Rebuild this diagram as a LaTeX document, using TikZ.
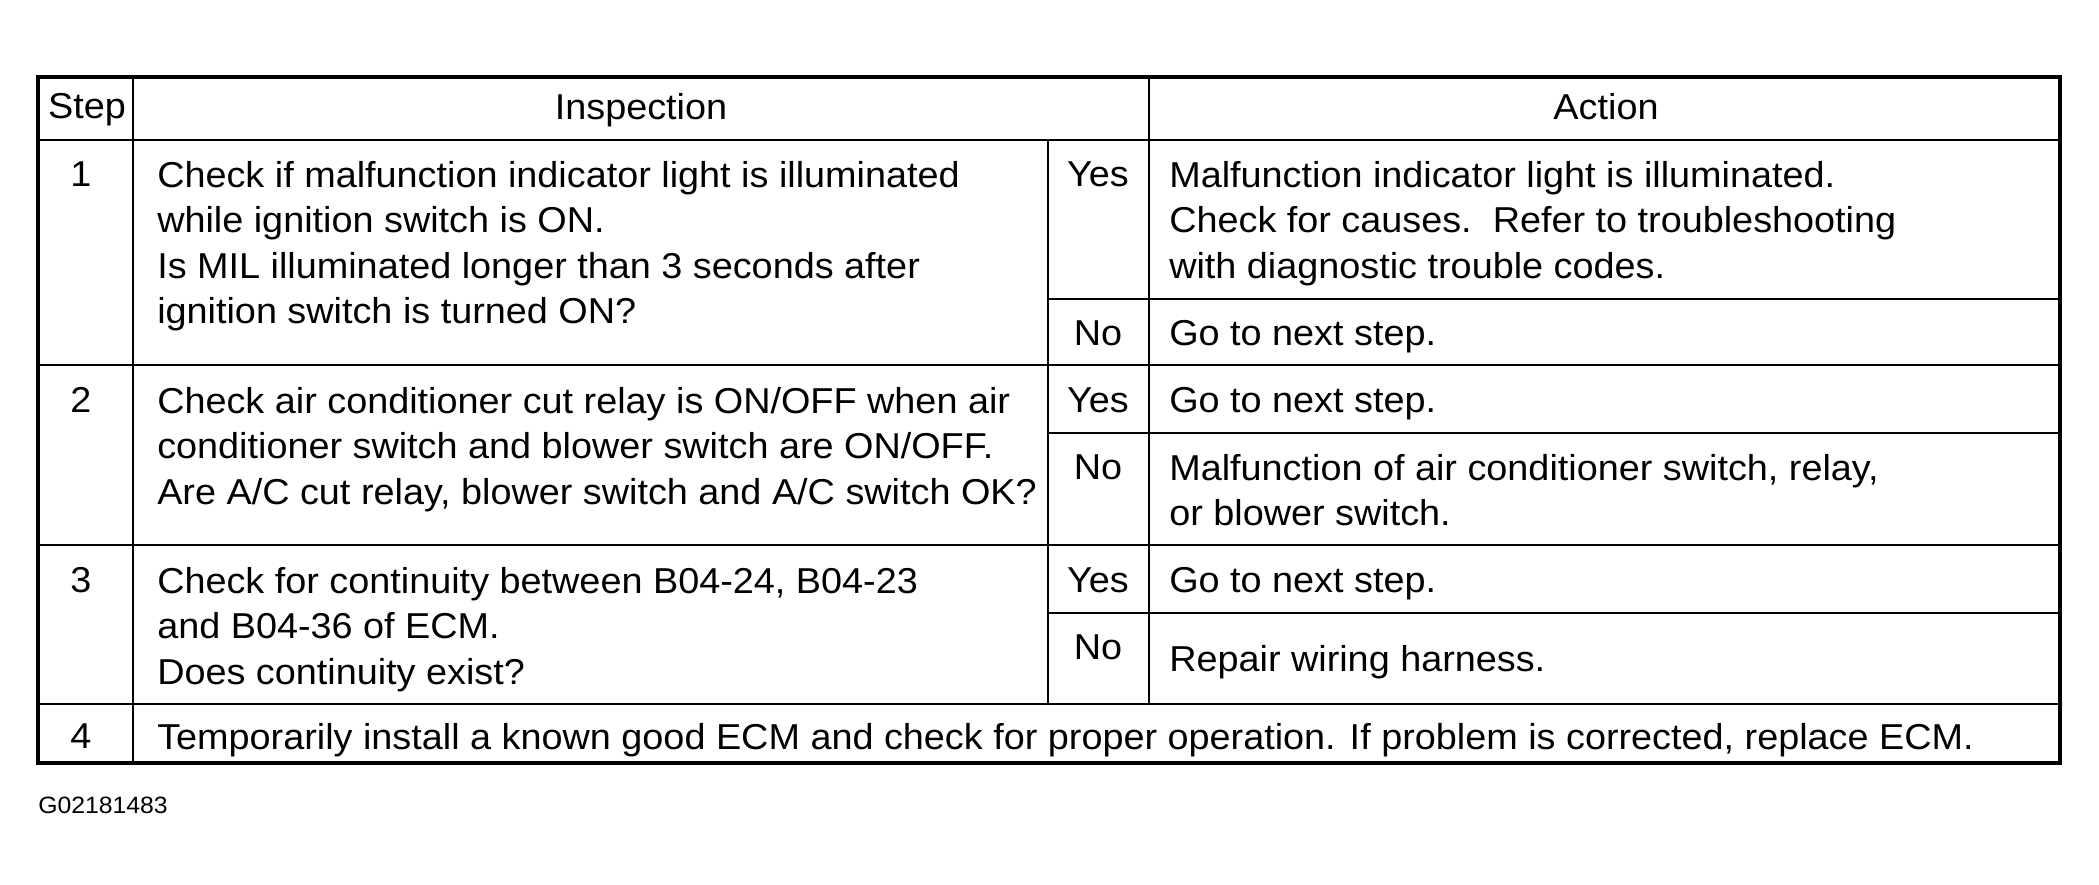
\documentclass[tikz,border=0pt]{standalone}
\usepackage{fontspec}
\setmainfont{Liberation Sans}[FakeStretch=1.05]
\usepackage{xcolor}
\usepackage{tikz}

\begin{document}
\begin{tikzpicture}[x=0.75pt,y=0.75pt,yscale=-1,xscale=1,
  cell/.style={inner sep=0pt,font=\fontsize{27}{34.1}\selectfont},
  tag/.style={inner sep=0pt,font=\fontsize{17.7}{21}\selectfont},
  frame/.style={line width=3pt},
  rule/.style={line width=1.2pt}]
\useasboundingbox (0,0) rectangle (2099,885);

%Shape: Rectangle [id:dp5120437786016]
\draw [frame] (38,77) rectangle (2060,763) ;
%Straight Lines [id:da2094417736521]
\draw [rule] (38,140) -- (2060,140) ;
%Straight Lines [id:da7718302654193]
\draw [rule] (38,365) -- (2060,365) ;
%Straight Lines [id:da4460185239917]
\draw [rule] (38,545) -- (2060,545) ;
%Straight Lines [id:da9031576621840]
\draw [rule] (38,704) -- (2060,704) ;
%Straight Lines [id:da3365019482715]
\draw [rule] (1048,299) -- (2060,299) ;
%Straight Lines [id:da6627105314958]
\draw [rule] (1048,433) -- (2060,433) ;
%Straight Lines [id:da1849560327743]
\draw [rule] (1048,613) -- (2060,613) ;
%Straight Lines [id:da8253019946607]
\draw [rule] (133,77) -- (133,763) ;
%Straight Lines [id:da5572810093461]
\draw [rule] (1048,140) -- (1048,704) ;
%Straight Lines [id:da2906674135188]
\draw [rule] (1149,77) -- (1149,704) ;

% Text Node
\draw (87,93) node [anchor=north][cell] (hdStep) {Step};
% Text Node
\draw (641,93) node [anchor=north][cell] (hdInsp) {Inspection};
% Text Node
\draw (1606,93) node [anchor=north][cell] (hdAct) {Action};

% Text Node
\draw (81,161) node [anchor=north][cell] (num1) {1};
% Text Node
\draw (157,161) node [anchor=north west][cell][align=left] (insp1) {Check if malfunction indicator light is illuminated\\while ignition switch is ON.\\Is MIL illuminated longer than 3 seconds after\\ignition switch is turned ON?};
% Text Node
\draw (1098,161) node [anchor=north][cell] (yes1) {Yes};
% Text Node
\draw (1169,161) node [anchor=north west][cell][align=left] (act1y) {Malfunction indicator light is illuminated.\\Check for causes.\ \ Refer to troubleshooting\\with diagnostic trouble codes.};
% Text Node
\draw (1098,320) node [anchor=north][cell] (no1) {No};
% Text Node
\draw (1169,320) node [anchor=north west][cell] (act1n) {Go to next step.};

% Text Node
\draw (81,387) node [anchor=north][cell] (num2) {2};
% Text Node
\draw (157,387) node [anchor=north west][cell][align=left] (insp2) {Check air conditioner cut relay is ON/OFF when air\\conditioner switch and blower switch are ON/OFF.\\Are A/C cut relay, blower switch and A/C switch OK?};
% Text Node
\draw (1098,387) node [anchor=north][cell] (yes2) {Yes};
% Text Node
\draw (1169,387) node [anchor=north west][cell] (act2y) {Go to next step.};
% Text Node
\draw (1098,454) node [anchor=north][cell] (no2) {No};
% Text Node
\draw (1169,454) node [anchor=north west][cell][align=left] (act2n) {Malfunction of air conditioner switch, relay,\\or blower switch.};

% Text Node
\draw (81,567) node [anchor=north][cell] (num3) {3};
% Text Node
\draw (157,567) node [anchor=north west][cell][align=left] (insp3) {Check for continuity between B04-24, B04-23\\and B04-36 of ECM.\\Does continuity exist?};
% Text Node
\draw (1098,567) node [anchor=north][cell] (yes3) {Yes};
% Text Node
\draw (1169,567) node [anchor=north west][cell] (act3y) {Go to next step.};
% Text Node
\draw (1098,634) node [anchor=north][cell] (no3) {No};
% Text Node
\draw (1169,645) node [anchor=north west][cell] (act3n) {Repair wiring harness.};

% Text Node
\draw (81,723) node [anchor=north][cell] (num4) {4};
% Text Node
\draw (157,723) node [anchor=north west][cell] (insp4) {Temporarily install a known good ECM and check for proper operation. If problem is corrected, replace ECM.};

% Text Node
\draw (38,797) node [anchor=north west][tag] (figId) {G02181483};

\end{tikzpicture}
\end{document}
